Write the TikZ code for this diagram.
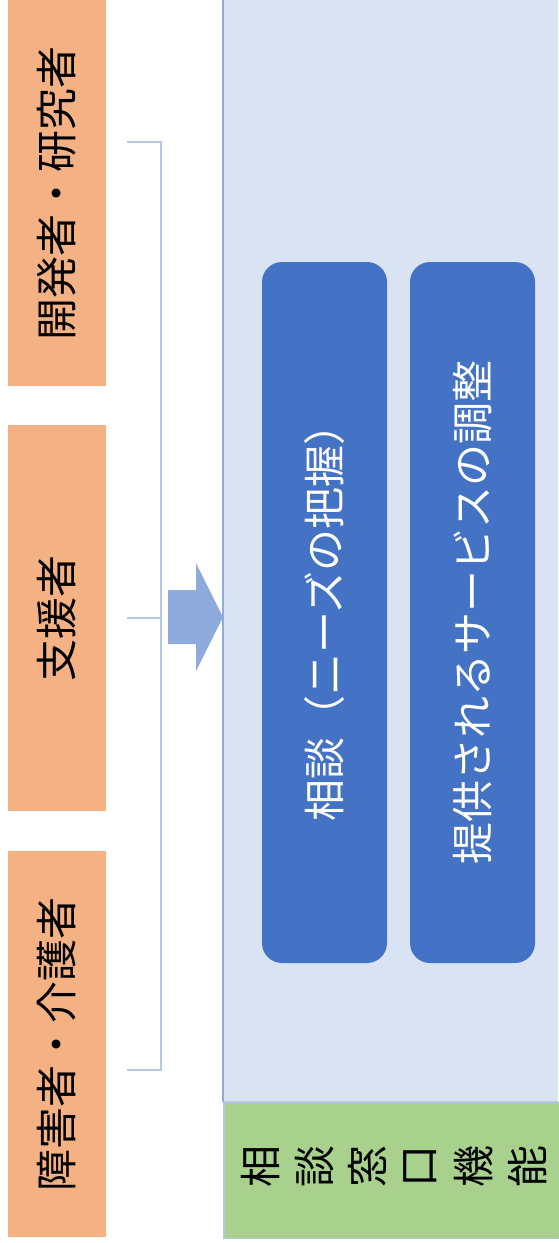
\documentclass[tikz,border=0pt]{standalone}
\usepackage{fontspec}
\setmainfont{Noto Sans CJK JP}
\definecolor{orangebox}{HTML}{F4B183}
\definecolor{panelfill}{HTML}{DAE3F3}
\definecolor{panelline}{HTML}{8FAADC}
\definecolor{bracketc}{HTML}{B4C7E7}
\definecolor{bluebox}{HTML}{4472C4}
\definecolor{greenbox}{HTML}{A9D18E}
\tikzset{
  actor/.style={rotate=90, fill=orangebox, inner sep=0pt, minimum width=386pt, minimum height=98pt,
    font=\fontsize{42}{50}\selectfont, text=black},
  task/.style={rotate=90, fill=bluebox, rounded corners=20pt, inner sep=0pt, minimum width=701pt,
    minimum height=125pt, font=\fontsize{42}{50}\selectfont, text=white},
  gchar/.style={rotate=90, inner sep=0pt, font=\fontsize{42}{50}\selectfont, text=black},
  brace/.style={draw=bracketc, line width=2pt},
}
\begin{document}
\begin{tikzpicture}[x=1pt,y=-1pt]
\useasboundingbox (0,0) rectangle (558,1243);
% right panel
\fill[panelfill] (223,0) rectangle (558,1101);
\draw[greenbox, fill=greenbox] (224,1102) rectangle (558,1238);
\draw[bracketc, line width=1.5pt] (558,1102) -- (224,1102) -- (224,1238.5) -- (558,1238.5);
\draw[panelline, line width=2pt] (223,0) -- (223,1102);
% actors
\node[actor] (dev) at (57,193) {開発者・研究者};
\node[actor] (sup) at (57,618) {支援者};
\node[actor] (usr) at (57,1044) {障害者・介護者};
% bracket
\coordinate (bt) at (127,142);
\coordinate (bm) at (127,618);
\coordinate (bb) at (127,1070);
\coordinate (vt) at (161,142);
\coordinate (vm) at (161,618);
\coordinate (vb) at (161,1070);
\draw[brace] (bt) -- (vt) -- (vb) -- (bb);
\draw[brace] (bm) -- (vm);
% block arrow
\fill[panelline] (168,590) -- (196,590) -- (196,563) -- (223,617) -- (196,671) -- (196,644) -- (168,644) -- cycle;
% tasks
\node[task] (t1) at (324.5,612.5) {相談（ニーズの把握）};
\node[task] (t2) at (472.5,612.5) {提供されるサービスの調整};
% green label
\foreach \c [count=\i] in {相,談,窓,口,機,能}
  \node[gchar] (g\i) at ({261+53.2*(\i-1)},1166) {\c};
\end{tikzpicture}
\end{document}
